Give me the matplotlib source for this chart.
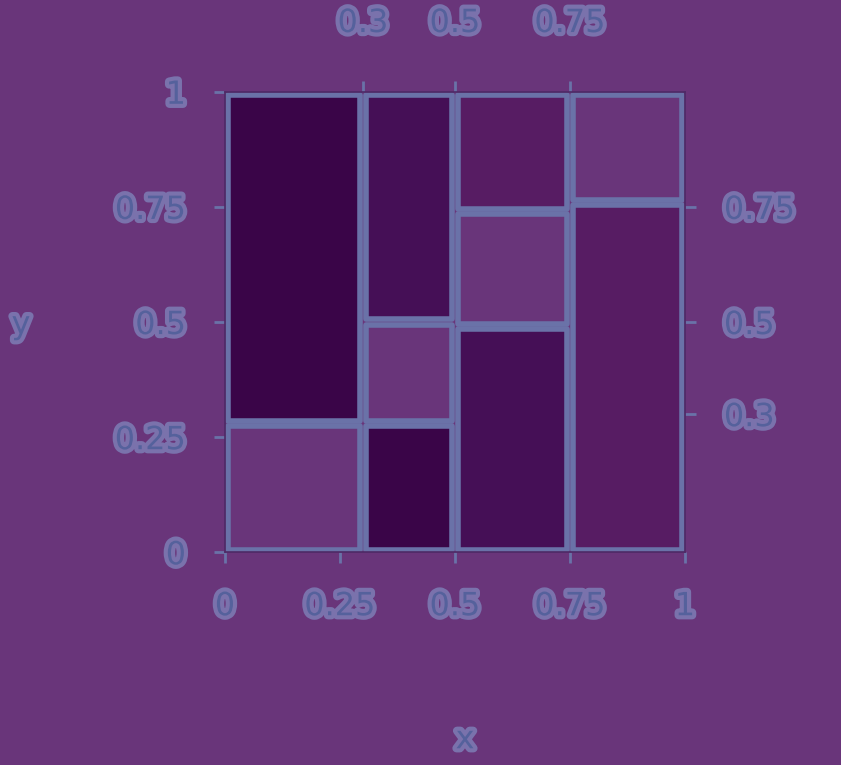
import matplotlib
matplotlib.use("Agg")
import matplotlib.pyplot as plt
from matplotlib.patches import Rectangle
import matplotlib.patheffects as pe

# ---- data ----
columns = ["A", "B", "C", "D"]
col_widths = [0.30, 0.20, 0.25, 0.25]
col_shares = [
    [0.28, 0.72],
    [0.28, 0.22, 0.50],
    [0.49, 0.25, 0.26],
    [0.76, 0.24],
]
col_levels = [
    [3, 0],
    [0, 3, 1],
    [1, 3, 2],
    [2, 3],
]
bottom_ticks = [0, 0.25, 0.5, 0.75, 1]
bottom_labels = ["0", "0.25", "0.5", "0.75", "1"]
left_ticks = [0, 0.25, 0.5, 0.75, 1]
left_labels = ["0", "0.25", "0.5", "0.75", "1"]
top_ticks = [0.3, 0.5, 0.75]
top_labels = ["0.3", "0.5", "0.75"]
right_ticks = [0.3, 0.5, 0.75]
right_labels = ["0.3", "0.5", "0.75"]

# ---- style ----
BG = "#69357a"
level_colors = ["#3a0548", "#450f56", "#571c63", "#69357a"]
EDGE = "#6a72a8"
TXT = "#55619c"
HALO = "#7a72ac"
FS = 23

fig = plt.figure(figsize=(8.41, 7.65), dpi=100, facecolor=BG)
ax = fig.add_axes([0.2675, 0.278, 0.547, 0.602])
ax.set_facecolor(BG)
ax.set_xlim(0, 1)
ax.set_ylim(0, 1)

gap = 0.006
x0 = 0.0
for w, shares, levels in zip(col_widths, col_shares, col_levels):
    y0 = 0.0
    for s, lv in zip(shares, levels):
        ax.add_patch(Rectangle((x0 + gap, y0 + gap), w - 2 * gap, s - 2 * gap,
                               facecolor=level_colors[lv], edgecolor=EDGE,
                               linewidth=4, joinstyle="round"))
        y0 += s
    x0 += w

for sp in ax.spines.values():
    sp.set_color("#4e2a66")
    sp.set_linewidth(1.2)

halo = [pe.withStroke(linewidth=6, foreground=HALO)]

ax.set_xticks(bottom_ticks)
ax.set_xticklabels(bottom_labels)
ax.set_yticks(left_ticks)
ax.set_yticklabels(left_labels)
ax.tick_params(axis="both", colors=EDGE, labelcolor=TXT, labelsize=FS,
               length=8, width=2, pad=20)

axt = ax.secondary_xaxis("top")
axt.set_xticks(top_ticks)
axt.set_xticklabels(top_labels)
axt.tick_params(colors=EDGE, labelcolor=TXT, labelsize=FS, length=8, width=2, pad=30)
axt.spines["top"].set_visible(False)

axr = ax.secondary_yaxis("right")
axr.set_yticks(right_ticks)
axr.set_yticklabels(right_labels)
axr.tick_params(colors=EDGE, labelcolor=TXT, labelsize=FS, length=8, width=2, pad=20)
axr.spines["right"].set_visible(False)

for a in (ax, axt, axr):
    for lab in a.get_xticklabels() + a.get_yticklabels():
        lab.set_path_effects(halo)

fig.text(0.553, 0.033, "x", color=TXT, fontsize=FS, ha="center", va="center",
         path_effects=halo)
fig.text(0.025, 0.575, "y", color=TXT, fontsize=FS, ha="center", va="center",
         path_effects=halo)

fig.savefig("out.png", dpi=100, facecolor=BG)
